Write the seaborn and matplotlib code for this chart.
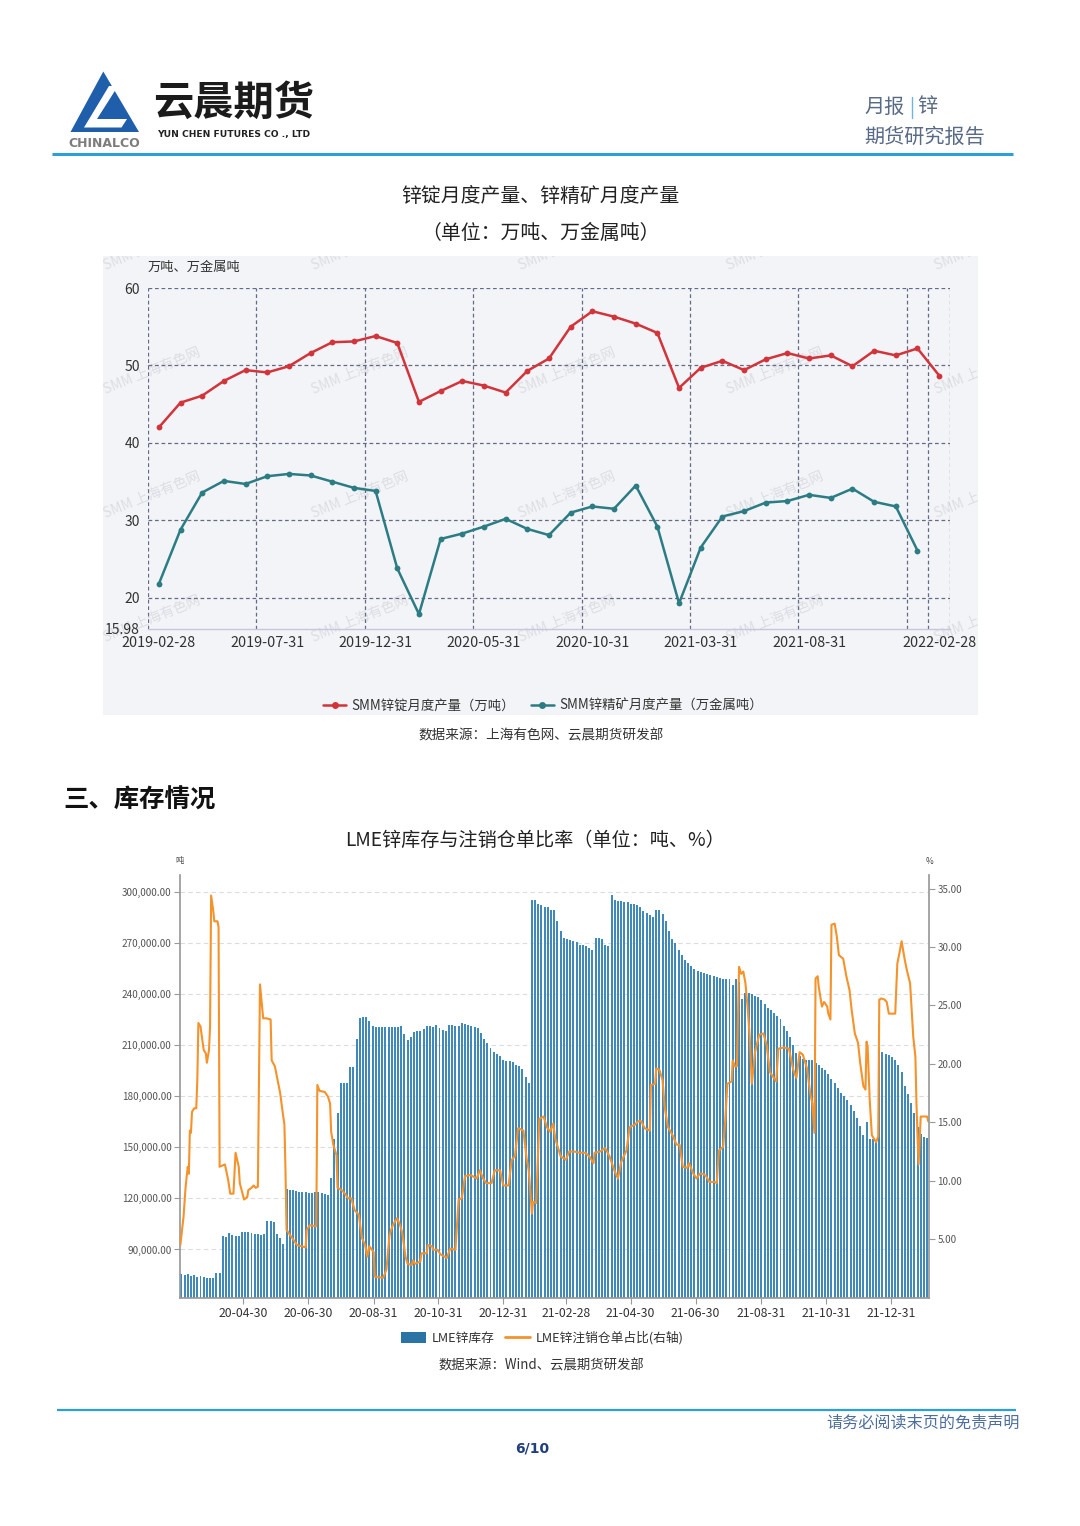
import numpy as np
import pandas as pd
import matplotlib
matplotlib.use("Agg")
import matplotlib.pyplot as plt
import matplotlib.dates as mdates
from matplotlib.patches import Polygon, Rectangle, Patch
from matplotlib.lines import Line2D
from matplotlib.ticker import FuncFormatter, FixedLocator
import seaborn as sns

# ---------------- data: top chart (monthly) ----------------
month_start = "2019-02-28"
zinc_ingot = [42.0, 45.2, 46.1, 48.0, 49.4, 49.1, 49.9, 51.6, 53.0, 53.1, 53.8, 52.9,
              45.3, 46.7, 48.0, 47.4, 46.5, 49.3, 50.9, 55.0, 57.0, 56.3, 55.4, 54.2,
              47.1, 49.7, 50.6, 49.4, 50.8, 51.6, 50.9, 51.3, 49.9, 51.9, 51.3, 52.2, 48.7]
zinc_conc = [21.8, 28.8, 33.6, 35.1, 34.7, 35.7, 36.0, 35.8, 35.0, 34.2, 33.8, 23.8,
             17.9, 27.6, 28.3, 29.2, 30.2, 28.9, 28.1, 31.0, 31.8, 31.5, 34.5, 29.2,
             19.3, 26.5, 30.5, 31.2, 32.3, 32.5, 33.3, 32.9, 34.1, 32.4, 31.8, 26.1]
top_series = ["SMM锌锭月度产量（万吨）", "SMM锌精矿月度产量（万金属吨）"]
top_yticks = [15.98, 20, 30, 40, 50, 60]

# ---------------- data: bottom chart ----------------
stock_start = "2020-03-03"   # one bar every 3 days
lme_stock_kt = [75.5, 75, 75.5, 74.5, 75, 74, 74.5, 74, 73.5, 73, 73, 76,
                76,
                98, 97.5, 99.5, 98.5, 98, 98, 100, 100.5, 100, 99.5, 99, 99, 98.5, 99,
                107, 107, 106, 99, 97, 93,
                125.5, 125, 125, 124.5, 124, 123.5, 123.5, 123, 123, 123.5, 123.5, 123, 122.5, 122,
                132, 155, 170, 188, 188, 188, 197, 197, 213.5, 226, 226.5, 226.5, 224,
                221, 220.5, 220.5, 220.5, 220.5, 220.5, 220.5, 220.5, 220.5, 221,
                216.5, 213, 215, 217.5, 218.5, 218,
                219.5, 221, 221, 220.5,
                221.5, 220, 219, 218.5,
                222, 221.5, 221, 221,
                223, 222.5, 222,
                221, 220.5, 220,
                217, 213.5, 211, 208, 206, 205, 203.5, 201, 200.5, 200.5, 200, 198.5, 197.5, 196, 191, 188,
                295, 295, 293, 292, 291, 291, 289.5, 289, 283, 277, 273, 272, 271.5, 271, 270.5,
                269, 268.5, 268, 267, 266, 273, 273, 272.5, 268.5, 268,
                298, 295, 294.5, 294.5, 294, 294, 293, 292.5, 292, 291,
                288.5, 287.5, 286.5, 285,
                289, 289, 287, 283,
                277, 272, 270, 266, 263, 260, 258, 256.5,
                254.5, 253.5, 253,
                252, 251.5, 251, 250.5, 250, 249.5, 249, 249, 248.5,
                245, 248.5, 247,
                237, 240.5, 240.5, 240, 239, 238, 236.5,
                234, 232, 230.5,
                229, 227, 225,
                221, 218.5, 214.5, 210, 205.5,
                203.5, 202,
                201.5, 201, 201,
                199.5, 198, 196.5, 195.5,
                193, 190, 187.5, 184.5,
                182, 180, 177.5,
                175, 171, 167, 162.5,
                157, 165, 155, 155, 154,
                209, 206, 205, 204, 203, 201, 198, 194,
                186, 181, 176, 170, 162, 158, 156, 155.5]

ratio_dates = ["2020-03-02", "2020-03-05", "2020-03-07", "2020-03-09", "2020-03-10", "2020-03-11",
               "2020-03-12", "2020-03-13", "2020-03-15", "2020-03-17", "2020-03-18", "2020-03-19",
               "2020-03-21", "2020-03-24", "2020-03-26", "2020-03-27", "2020-03-29", "2020-03-30",
               "2020-03-31", "2020-04-02", "2020-04-03", "2020-04-06", "2020-04-07", "2020-04-08",
               "2020-04-13", "2020-04-16", "2020-04-18", "2020-04-21", "2020-04-23", "2020-04-26",
               "2020-04-27", "2020-05-01", "2020-05-04", "2020-05-05", "2020-05-08", "2020-05-10",
               "2020-05-12", "2020-05-14", "2020-05-15", "2020-05-16", "2020-05-19", "2020-05-22",
               "2020-05-26", "2020-05-27", "2020-05-30", "2020-06-02", "2020-06-04", "2020-06-06",
               "2020-06-08", "2020-06-09", "2020-06-10", "2020-06-13", "2020-06-20", "2020-06-24",
               "2020-06-28", "2020-06-29", "2020-07-02", "2020-07-08", "2020-07-09", "2020-07-11",
               "2020-07-16", "2020-07-19", "2020-07-21", "2020-07-22", "2020-07-24", "2020-07-27",
               "2020-07-28", "2020-08-01", "2020-08-04", "2020-08-07", "2020-08-10", "2020-08-13",
               "2020-08-17", "2020-08-20", "2020-08-23", "2020-08-25", "2020-08-27", "2020-08-31",
               "2020-09-01", "2020-09-09", "2020-09-12", "2020-09-15", "2020-09-18", "2020-09-22",
               "2020-09-25", "2020-09-27", "2020-09-30", "2020-10-02", "2020-10-06", "2020-10-07",
               "2020-10-09", "2020-10-14", "2020-10-15", "2020-10-20", "2020-10-21", "2020-10-25",
               "2020-10-26", "2020-10-30", "2020-11-02", "2020-11-08", "2020-11-11", "2020-11-16",
               "2020-11-19", "2020-11-22", "2020-11-25", "2020-11-30", "2020-12-06", "2020-12-09",
               "2020-12-12", "2020-12-15", "2020-12-20", "2020-12-23", "2020-12-28", "2020-12-31",
               "2021-01-05", "2021-01-08", "2021-01-11", "2021-01-14", "2021-01-19", "2021-01-22",
               "2021-01-24", "2021-01-27", "2021-01-28", "2021-01-31", "2021-02-03", "2021-02-07",
               "2021-02-10", "2021-02-13", "2021-02-16", "2021-02-18", "2021-02-23", "2021-02-28",
               "2021-03-03", "2021-03-08", "2021-03-13", "2021-03-18", "2021-03-22", "2021-03-26",
               "2021-03-27", "2021-04-01", "2021-04-06", "2021-04-10", "2021-04-15", "2021-04-18",
               "2021-04-21", "2021-04-26", "2021-04-29", "2021-05-04", "2021-05-07", "2021-05-10",
               "2021-05-13", "2021-05-18", "2021-05-19", "2021-05-23", "2021-05-24", "2021-05-27",
               "2021-05-30", "2021-06-01", "2021-06-04", "2021-06-09", "2021-06-12", "2021-06-15",
               "2021-06-18", "2021-06-22", "2021-06-24", "2021-06-28", "2021-07-01", "2021-07-04",
               "2021-07-07", "2021-07-10", "2021-07-13", "2021-07-18", "2021-07-20", "2021-07-22",
               "2021-07-26", "2021-07-28", "2021-07-30", "2021-08-03", "2021-08-04", "2021-08-06",
               "2021-08-08", "2021-08-10", "2021-08-12", "2021-08-14", "2021-08-16", "2021-08-18",
               "2021-08-20", "2021-08-22", "2021-08-25", "2021-08-29", "2021-09-02", "2021-09-05",
               "2021-09-08", "2021-09-11", "2021-09-14", "2021-09-16", "2021-09-21", "2021-09-26",
               "2021-09-30", "2021-10-03", "2021-10-06", "2021-10-09", "2021-10-13", "2021-10-16",
               "2021-10-18", "2021-10-20", "2021-10-21", "2021-10-23", "2021-10-24", "2021-10-27",
               "2021-10-29", "2021-11-01", "2021-11-02", "2021-11-04", "2021-11-05", "2021-11-08",
               "2021-11-10", "2021-11-12", "2021-11-16", "2021-11-19", "2021-11-22", "2021-11-24",
               "2021-11-27", "2021-11-30", "2021-12-02", "2021-12-05", "2021-12-07", "2021-12-08",
               "2021-12-09", "2021-12-11", "2021-12-13", "2021-12-17", "2021-12-19", "2021-12-20",
               "2021-12-22", "2021-12-25", "2021-12-27", "2021-12-29", "2022-01-04", "2022-01-06",
               "2022-01-08", "2022-01-10", "2022-01-13", "2022-01-15", "2022-01-18", "2022-01-21",
               "2022-01-23", "2022-01-24", "2022-01-25", "2022-01-26", "2022-01-28", "2022-01-31",
               "2022-02-03", "2022-02-04"]
ratio_vals = [4.5, 6.9, 9.5, 11.2, 10.6, 14.3,
              14.1, 15.9, 16.2, 16.2, 18.6, 23.5,
              23.2, 21.2, 20.9, 20.1, 21.2, 23.2,
              34.4, 33.1, 32.2, 32.2, 31.7, 11.2,
              11.4, 10.1, 8.9, 8.9, 12.4, 11.2,
              9.8, 8.4, 8.6, 9.2, 9.4, 9.6,
              9.4, 9.5, 18.6, 26.8, 23.9, 23.9,
              23.8, 20.3, 19.8, 18.4, 17.5, 16.1,
              14.8, 10.9, 5.8, 5.4, 4.5, 4.4,
              4.3, 5.8, 6.2, 6.1, 18.2, 17.7,
              17.6, 17.2, 16.6, 14.2, 13.1, 12.2,
              9.4, 9.2, 8.9, 8.5, 8.5, 7.5,
              7.1, 5.1, 4.5, 3.5, 4.4, 3.9,
              1.8, 1.7, 2.4, 5.4, 6.2, 6.8,
              6.2, 5.5, 3.5, 2.9, 2.8, 3.2,
              2.9, 3.1, 3.8, 3.8, 4.5, 4.4,
              4.1, 4.1, 3.7, 3.4, 4.2, 4.1,
              8.4, 8.5, 10.4, 10.5, 10.2, 10.9,
              10.2, 9.8, 9.8, 10.9, 10.9, 9.6,
              9.6, 11.8, 12.1, 14.5, 14.3, 11.9,
              10.9, 7.2, 8.2, 8.1, 15.3, 15.5,
              14.6, 14.2, 14.9, 13.6, 12.1, 11.8,
              12.5, 12.5, 12.4, 12.4, 12.1, 11.5,
              12.4, 12.5, 12.8, 12.1, 10.8, 10.2,
              11.6, 12.6, 14.6, 14.8, 15.1, 15.1,
              14.5, 14.3, 18.2, 18.3, 19.6, 19.5,
              18.6, 16.3, 14.6, 13.8, 13.1, 13.1,
              11.2, 11.1, 11.5, 10.6, 10.2, 10.6,
              10.6, 10.4, 9.9, 9.9, 9.8, 12.6,
              12.9, 15.2, 18.3, 18.5, 20.3, 19.8,
              19.8, 28.3, 27.7, 27.9, 26.9, 24.9,
              22.3, 18.3, 21.0, 22.5, 22.6, 21.6,
              19.3, 18.9, 18.5, 21.3, 21.4, 21.3,
              19.5, 18.8, 21.0, 20.8, 19.6, 17.5,
              16.6, 14.1, 27.3, 27.5, 26.6, 24.9,
              25.3, 24.9, 24.3, 23.8, 31.9, 32.0,
              30.9, 29.3, 29.0, 27.5, 26.3, 24.6,
              22.6, 21.8, 20.1, 18.1, 17.8, 21.9,
              21.5, 16.9, 13.9, 13.3, 13.8, 25.5,
              25.6, 25.5, 25.3, 24.3, 24.3, 28.6,
              29.5, 30.5, 28.9, 28.0, 26.9, 22.3,
              20.6, 16.6, 13.8, 11.4, 15.5, 15.5,
              15.5, 15.1]
bottom_xtick_labels = ["20-04-30", "20-06-30", "20-08-31", "20-10-31", "20-12-31", "21-02-28",
                       "21-04-30", "21-06-30", "21-08-31", "21-10-31", "21-12-31"]
left_ticks = [90000, 120000, 150000, 180000, 210000, 240000, 270000, 300000]
right_ticks = [5, 10, 15, 20, 25, 30, 35]
bottom_series = ["LME锌库存", "LME锌注销仓单占比(右轴)"]

# ---------------- style ----------------
sns.set_theme(style="white")
plt.rcParams["font.family"] = ["Noto Sans CJK SC", "DejaVu Sans"]
plt.rcParams["axes.unicode_minus"] = False

W, H = 1080, 1526
fig = plt.figure(figsize=(W / 100, H / 100), dpi=100)
fig.patch.set_facecolor("white")


def fx(x):
    return x / W


def fy(y):
    return 1 - y / H


RED = "#d2343b"
TEAL = "#2c7c84"
BLUE_BAR = "#4089ba"
ORANGE = "#f5922a"

# background / page elements axis in pixel coordinates
bg = fig.add_axes([0, 0, 1, 1], zorder=0)
bg.set_xlim(0, W)
bg.set_ylim(H, 0)
bg.axis("off")

# logo
bg.add_patch(Polygon([(103.3, 71.5), (70.5, 132), (139, 132)], closed=True,
                     facecolor="#1e5eab", edgecolor="none"))
bg.add_patch(Polygon([(109, 86), (118, 86), (97, 119), (127, 119), (121.5, 127.5), (84, 127.5)],
                     closed=True, facecolor="white", edgecolor="none"))
bg.text(104, 143.5, "CHINALCO", ha="center", va="center", fontsize=9, fontweight="bold",
        color="#7d7d7d", family=["DejaVu Sans"])
bg.text(153, 103, "云晨期货", ha="left", va="center", fontsize=29, fontweight="bold", color="#1b1b1b")
bg.text(157, 134, "YUN CHEN FUTURES CO ., LTD", ha="left", va="center", fontsize=6.6,
        fontweight="bold", color="#222222", family=["DejaVu Sans"])
bg.plot([52, 1013], [153.5, 153.5], color="#2a9fd8", lw=2.2, solid_capstyle="butt")
bg.text(864, 107, "月报", ha="left", va="center", fontsize=14.5, color="#586a86")
bg.plot([912, 912], [97, 118], color="#6fb4e0", lw=1)
bg.text(917, 107, "锌", ha="left", va="center", fontsize=14.5, color="#586a86")
bg.text(864, 137, "期货研究报告", ha="left", va="center", fontsize=14.5, color="#586a86")

# top chart titles
bg.text(540, 196, "锌锭月度产量、锌精矿月度产量", ha="center", va="center", fontsize=14.3, color="#222222")
bg.text(540, 233, "（单位：万吨、万金属吨）", ha="center", va="center", fontsize=14.3, color="#222222")

# top panel background
bg.add_patch(Rectangle((103, 256), 875, 459, facecolor="#f3f4f7", edgecolor="none"))

# watermark layer clipped to the panel
wm = fig.add_axes([fx(103), fy(715), 875 / W, 459 / H], zorder=1)
wm.set_xlim(103, 978)
wm.set_ylim(715, 256)
wm.patch.set_alpha(0)
for s in wm.spines.values():
    s.set_visible(False)
wm.set_xticks([])
wm.set_yticks([])
for wy in [273, 397, 521, 645]:
    for wx in [107, 315, 522, 730, 938]:
        wm.text(wx, wy, "SMM 上海有色网", ha="left", va="bottom", rotation=22,
                rotation_mode="anchor", fontsize=10, color="#dcdee4", clip_on=True)

bg.text(148, 267, "万吨、万金属吨", ha="left", va="center", fontsize=9.5, color="#333333")
bg.text(541, 735, "数据来源：上海有色网、云晨期货研发部", ha="center", va="center", fontsize=9.8,
        color="#333333")

# section heading
bg.text(63, 800, "三、库存情况", ha="left", va="center", fontsize=18.3, fontweight="bold", color="#111111")

# bottom chart title & labels
bg.text(535, 840, "LME锌库存与注销仓单比率（单位：吨、%）", ha="center", va="center", fontsize=13.8,
        color="#222222")
bg.text(180, 861, "吨", ha="center", va="center", fontsize=6, color="#444444")
bg.text(929, 861, "%", ha="center", va="center", fontsize=6, color="#444444")
bg.text(541, 1366, "数据来源：Wind、云晨期货研发部", ha="center", va="center", fontsize=9.6, color="#333333")

# footer
bg.plot([57, 1016], [1409.5, 1409.5], color="#2a9fd8", lw=1.6, solid_capstyle="butt")
bg.text(1020, 1423, "请务必阅读末页的免责声明", ha="right", va="center", fontsize=11.6, color="#4d6e9c")
bg.text(532, 1448, "6/10", ha="center", va="center", fontsize=10, fontweight="bold", color="#1f3f7f",
        family=["DejaVu Sans"])

# ---------------- top chart ----------------
n_top = len(zinc_ingot)
try:
    months = pd.date_range(month_start, periods=n_top, freq="ME")
except ValueError:
    months = pd.date_range(month_start, periods=n_top, freq="M")
month_labels = [m.strftime("%Y-%m-%d") for m in months]

df_top = pd.concat([
    pd.DataFrame({"i": np.arange(len(zinc_ingot)), "v": zinc_ingot, "s": top_series[0]}),
    pd.DataFrame({"i": np.arange(len(zinc_conc)), "v": zinc_conc, "s": top_series[1]}),
], ignore_index=True)

ax1 = fig.add_axes([fx(148), fy(629), (950 - 148) / W, (629 - 288) / H], zorder=2)
ax1.patch.set_alpha(0)
sns.lineplot(data=df_top, x="i", y="v", hue="s", hue_order=top_series,
             palette={top_series[0]: RED, top_series[1]: TEAL},
             marker="o", markersize=4.2, markeredgewidth=0, linewidth=1.8,
             legend=False, ax=ax1, estimator=None, sort=False)
ax1.set_xlim(-0.5, n_top - 0.5)
ax1.set_ylim(top_yticks[0], top_yticks[-1])
label_idx = list(range(0, n_top - 1, 5))
if label_idx[-1] >= n_top - 3:
    label_idx = label_idx[:-1]
label_idx = label_idx + [n_top - 1]
grid_idx = sorted(set([i - 0.5 for i in range(0, n_top, 5)] + [n_top - 1.5, n_top - 0.5]))
GRID = "#666b85"
for gx in grid_idx:
    ax1.axvline(gx, color=GRID, lw=0.9, ls=(0, (3, 2.2)), zorder=1)
for gy in top_yticks[1:]:
    ax1.axhline(gy, color=GRID, lw=0.9, ls=(0, (3, 2.2)), zorder=1)
ax1.set_xticks(label_idx)
ax1.set_xticklabels([month_labels[i] for i in label_idx])
ax1.set_yticks(top_yticks)
ax1.set_yticklabels([("%.2f" % t) if t != int(t) else str(int(t)) for t in top_yticks])
ax1.tick_params(axis="both", length=0, labelsize=10.4, colors="#333333")
ax1.tick_params(axis="y", pad=6, labelsize=10)
ax1.tick_params(axis="x", pad=5)
for s in ["left", "right", "top"]:
    ax1.spines[s].set_visible(False)
ax1.spines["bottom"].set_color("#c5c7db")
ax1.spines["bottom"].set_linewidth(1)
ax1.set_xlabel("")
ax1.set_ylabel("")
ax1.grid(False)

h_top = [Line2D([0], [0], color=RED, lw=1.8, marker="o", markersize=5, markeredgewidth=0),
         Line2D([0], [0], color=TEAL, lw=1.8, marker="o", markersize=5, markeredgewidth=0)]
fig.legend(h_top, top_series, loc="center", bbox_to_anchor=(fx(543), fy(706)), ncol=2,
           frameon=False, fontsize=9.6, handlelength=1.7, columnspacing=1.2, handletextpad=0.4,
           labelcolor="#333333")

# ---------------- bottom chart ----------------
bar_dates = pd.date_range(stock_start, periods=len(lme_stock_kt), freq="3D")
bar_x = mdates.date2num(bar_dates.to_pydatetime())
stock_t = np.array(lme_stock_kt) * 1000.0

ax2 = fig.add_axes([fx(180), fy(1297.7), (929 - 180) / W, (1297.7 - 875) / H], zorder=2)
ax2.patch.set_alpha(0)
ax2.set_axisbelow(True)
sns.barplot(x=bar_x, y=stock_t, native_scale=True, orient="x", color=BLUE_BAR, saturation=1,
            width=0.62, linewidth=0, errorbar=None, ax=ax2)
ax2.set_ylim(61700, 309800)
ax2.yaxis.set_major_locator(FixedLocator(left_ticks))
ax2.yaxis.set_major_formatter(FuncFormatter(lambda v, p: "{:,.2f}".format(v)))
ax2.grid(axis="y", color="#dcdcdc", lw=0.8, ls=(0, (4, 3)))
ax2.grid(axis="x", visible=False)

ax3 = ax2.twinx()
ax3.patch.set_alpha(0)
ratio_x = mdates.date2num(pd.to_datetime(ratio_dates).to_pydatetime())
sns.lineplot(x=ratio_x, y=ratio_vals, color=ORANGE, linewidth=1.5, ax=ax3, estimator=None, sort=False)
ax3.set_ylim(0, 36.16)
ax3.yaxis.set_major_locator(FixedLocator(right_ticks))
ax3.yaxis.set_major_formatter(FuncFormatter(lambda v, p: "%.2f" % v))
ax3.grid(False)

x0 = mdates.date2num(pd.Timestamp("2020-03-02").to_pydatetime())
ax2.set_xlim(x0 - 0.3, x0 + 704.8)
tick_dates = pd.to_datetime(["20" + s for s in bottom_xtick_labels])
ax2.set_xticks(mdates.date2num(tick_dates.to_pydatetime()))
ax2.set_xticklabels(bottom_xtick_labels)

AX = "#9a9a9a"
for a in (ax2, ax3):
    a.set_xlabel("")
    a.set_ylabel("")
    a.spines["top"].set_visible(False)
ax2.spines["right"].set_visible(False)
ax2.spines["left"].set_color(AX)
ax2.spines["bottom"].set_color(AX)
ax3.spines["left"].set_visible(False)
ax3.spines["bottom"].set_visible(False)
ax3.spines["right"].set_color(AX)
ax2.tick_params(axis="y", direction="out", length=4, width=0.8, color=AX, labelsize=7.2,
                labelcolor="#555555", pad=2, left=True)
ax2.tick_params(axis="x", direction="out", length=4, width=0.8, color=AX, labelsize=8.8,
                labelcolor="#333333", pad=3, bottom=True)
ax3.tick_params(axis="y", direction="out", length=4, width=0.8, color=AX, labelsize=7,
                labelcolor="#555555", pad=2, right=True)

h_bot = [Patch(facecolor="#2a74a5", edgecolor="none"),
         Line2D([0], [0], color=ORANGE, lw=2)]
fig.legend(h_bot, bottom_series, loc="center", bbox_to_anchor=(fx(542), fy(1338)), ncol=2,
           frameon=False, fontsize=9.2, handlelength=2.0, handleheight=0.9, columnspacing=0.8,
           handletextpad=0.4, labelcolor="#333333")

fig.savefig("out.png", dpi=100, facecolor="white")
